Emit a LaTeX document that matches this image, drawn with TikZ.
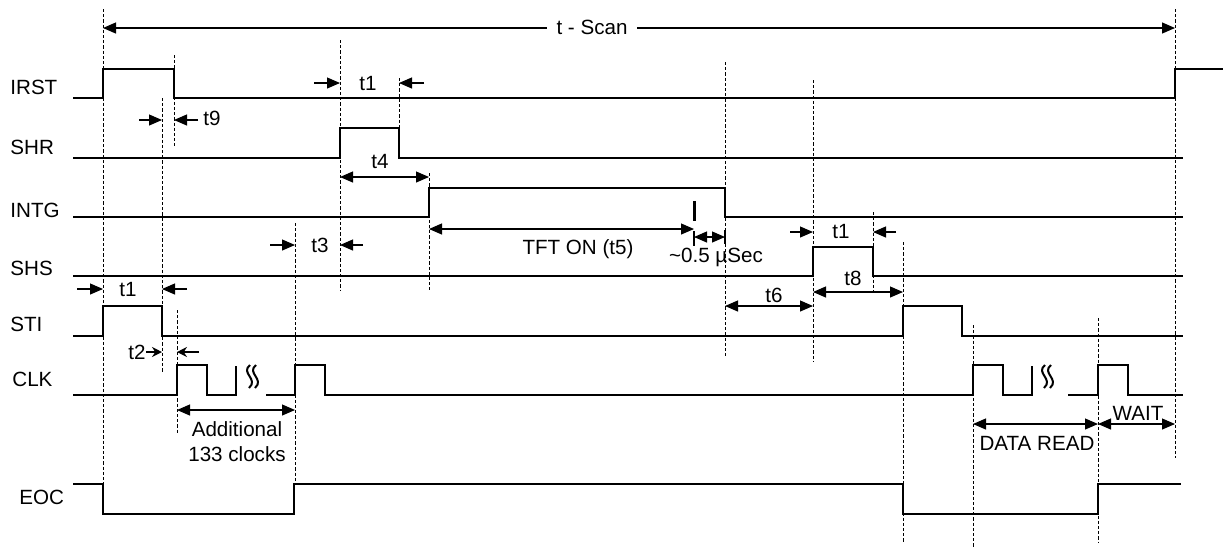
\documentclass[tikz,border=0pt]{standalone}
\usepackage{fontspec}
\setmainfont{Liberation Sans}
\usetikzlibrary{arrows.meta}
\tikzset{
  sig/.style={line width=1.15pt},
  guide/.style={line width=0.5pt,dash pattern=on 1.6pt off 1pt},
  dim/.style={line width=0.55pt,{Triangle[length=6.5pt,width=5.5pt]}-{Triangle[length=6.5pt,width=5.5pt]}},
  pointer/.style={line width=0.55pt,-{Triangle[length=6.5pt,width=5.5pt]}},
  boldptr/.style={line width=1.2pt,-{Stealth[length=5pt,width=5pt]}},
  lbl/.style={font=\fontsize{10.3}{12.5}\selectfont,inner sep=1pt},
}
\begin{document}
\begin{tikzpicture}[x=0.5pt,y=-0.5pt]
  \useasboundingbox (0,0) rectangle (1223,548);
  % signal names
  \node[lbl,anchor=west] (irst) at (8,87) {IRST};
  \node[lbl,anchor=west] (shr) at (8,147) {SHR};
  \node[lbl,anchor=west] (intg) at (8,210) {INTG};
  \node[lbl,anchor=west] (shs) at (8,268) {SHS};
  \node[lbl,anchor=west] (sti) at (8,324) {STI};
  \node[lbl,anchor=west] (clk) at (10,379) {CLK};
  \node[lbl,anchor=west] (eoc) at (17,497) {EOC};
  % waveforms
  \draw[sig] (73,98) -- (103,98) -- (103,69) -- (174,69) -- (174,98) -- (1175,98) -- (1175,69) -- (1223,69);
  \draw[sig] (73,158) -- (340,158) -- (340,128) -- (399,128) -- (399,158) -- (1183,158);
  \draw[sig] (73,217) -- (429,217) -- (429,188) -- (725,188) -- (725,217) -- (1183,217);
  \draw[sig] (73,276) -- (813,276) -- (813,247) -- (873,247) -- (873,276) -- (1183,276);
  \draw[sig] (73,336) -- (103,336) -- (103,306) -- (162,306) -- (162,336) -- (903,336) -- (903,306) -- (962,306) -- (962,336) -- (1183,336);
  \draw[sig] (73,395) -- (177,395) -- (177,365) -- (207,365) -- (207,395) -- (236,395) -- (236,366);
  \draw[sig] (266,395) -- (295,395) -- (295,365) -- (325,365) -- (325,395) -- (973,395) -- (973,365) -- (1003,365) -- (1003,395) -- (1032,395) -- (1032,366);
  \draw[sig] (1068,395) -- (1098,395) -- (1098,365) -- (1128,365) -- (1128,395) -- (1183,395);
  \draw[sig] (73,484) -- (103,484) -- (103,514) -- (294,514) -- (294,484) -- (903,484) -- (903,514) -- (1098,514) -- (1098,484) -- (1181,484);
  % clock breaks
  \foreach \bx in {245,1040} {
    \draw[line width=1pt] ({\bx+5},365) .. controls ({\bx-5},373) and ({\bx+14},379) .. ({\bx+4},388);
    \draw[line width=1pt] ({\bx+11},365) .. controls ({\bx+1},373) and ({\bx+20},379) .. ({\bx+10},388);
  }
  % dashed guides
  \foreach \x/\ya/\yb in {103/9/514, 174/55/146, 162/98/372, 177/310/433, 340/40/290,
      399/78/158, 429/173/290, 295/223/484, 725/62/357, 813/80/362, 873/212/292,
      903/242/543, 973/325/548, 1098/318/543, 1175/9/458}
    \draw[guide] (\x,\ya) -- (\x,\yb);
  % scan period
  \draw[dim,line width=0.6pt] (103,28) -- (1175,28);
  \node[lbl,fill=white,inner xsep=5pt] (tscan) at (592,27) {t - Scan};
  % t1 on SHR
  \draw[pointer] (314,83) -- (340,83);
  \draw[pointer] (424,83) -- (399,83);
  \node[lbl] (tone) at (368,83) {t1};
  % t9
  \draw[pointer] (139,120) -- (162,120);
  \draw[pointer] (198,120) -- (174,120);
  \node[lbl] (tnine) at (212,118) {t9};
  % t4
  \draw[dim] (340,177) -- (429,177);
  \node[lbl] (tfour) at (380,161) {t4};
  % TFT ON
  \draw[dim] (429,229) -- (694,229);
  \node[lbl] (tfive) at (578,249) {TFT ON (t5)};
  \draw[line width=1.5pt] (694,201) -- (694,221);
  \draw[line width=0.9pt] (694,231) -- (694,246);
  \draw[line width=0.9pt] (725,230) -- (725,244);
  \draw[dim] (694,237) -- (725,237);
  \node[lbl] (tgap) at (716,257) {\textasciitilde 0.5 µSec};
  % t3
  \draw[pointer] (270,245) -- (295,245);
  \draw[pointer] (363,245) -- (340,245);
  \node[lbl] (tthree) at (320,245) {t3};
  % t1 on STI
  \draw[pointer] (77,289) -- (103,289);
  \draw[pointer] (187,289) -- (162,289);
  \node[lbl] (toneb) at (128,289) {t1};
  % t2
  \node[lbl] (ttwo) at (137,352) {t2};
  \draw[boldptr] (146,352) -- (162,352);
  \draw[boldptr] (199,352) -- (177,352);
  % t1 on SHS
  \draw[pointer] (790,232) -- (813,232);
  \draw[pointer] (896,232) -- (873,232);
  \node[lbl] (tonec) at (841,231) {t1};
  % t6, t8
  \draw[dim] (725,306) -- (813,306);
  \node[lbl] (tsix) at (774,295) {t6};
  \draw[dim] (813,292) -- (903,292);
  \node[lbl] (teight) at (853,278) {t8};
  % clock counts
  \draw[dim] (177,410) -- (295,410);
  \node[lbl,align=center] (addl) at (237,442) {Additional\\133 clocks};
  \draw[dim] (973,424) -- (1098,424);
  \node[lbl] (dread) at (1037,443) {DATA READ};
  \draw[dim] (1098,424) -- (1175,424);
  \node[lbl] (wait) at (1138,413) {WAIT};
\end{tikzpicture}
\end{document}
